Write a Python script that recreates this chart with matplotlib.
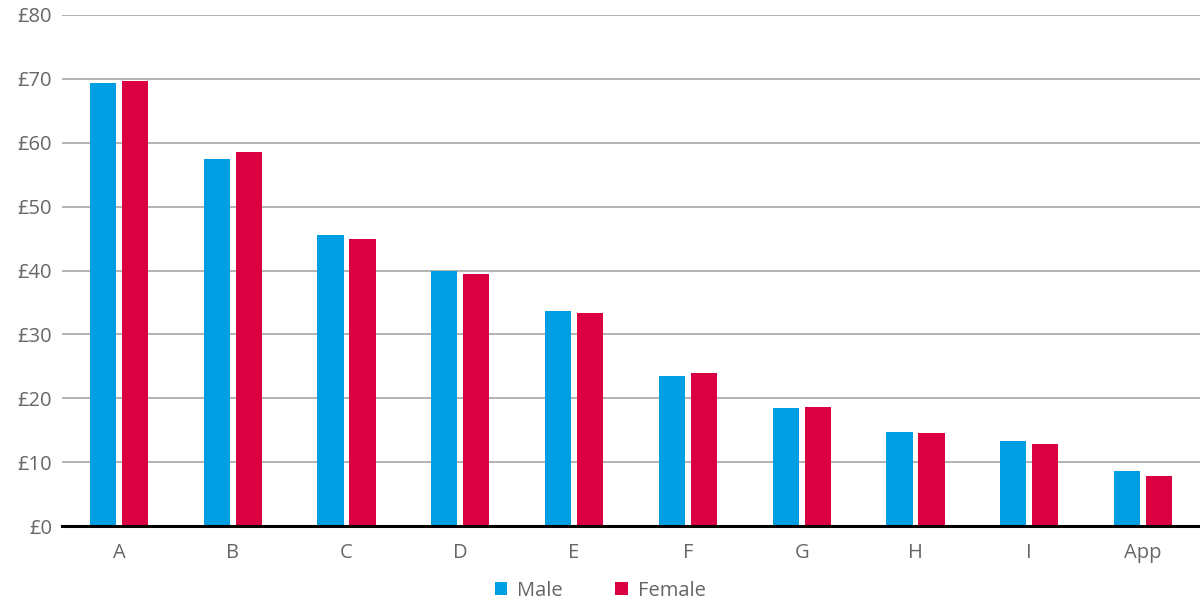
import numpy as np
import matplotlib
matplotlib.use('Agg')
import matplotlib.pyplot as plt
from matplotlib.ticker import FuncFormatter

# Average spend per group, split by gender (GBP)
categories = ['A', 'B', 'C', 'D', 'E', 'F', 'G', 'H', 'I', 'App']
male = [69.3, 57.5, 45.6, 39.9, 33.6, 23.5, 18.5, 14.7, 13.3, 8.6]
female = [69.6, 58.6, 44.9, 39.4, 33.3, 23.9, 18.7, 14.6, 12.9, 7.9]

blue = '#009FE3'
red = '#DA0042'
grey_text = '#666666'

plt.rcParams['font.family'] = ['Open Sans', 'DejaVu Sans']

fig = plt.figure(figsize=(12, 6.05), dpi=100)
ax = fig.add_axes([62 / 1200, 1 - 526 / 605, 1 - 62 / 1200, 511 / 605])

x = np.arange(len(categories))
w = 0.23
ax.bar(x - 0.14, male, width=w, color=blue, label='Male', zorder=3)
ax.bar(x + 0.14, female, width=w, color=red, label='Female', zorder=3)

ax.set_xlim(-0.5, len(categories) - 0.5)
ax.set_ylim(0, 80)
ax.set_yticks(range(0, 81, 10))
ax.yaxis.set_major_formatter(FuncFormatter(lambda v, p: '£%d' % v))
ax.set_xticks(x)
ax.set_xticklabels(categories)

ax.grid(axis='y', color='#a6a6a6', linewidth=1.2, zorder=0)
for s in ['left', 'right', 'top']:
    ax.spines[s].set_visible(False)
ax.spines['bottom'].set_color('black')
ax.spines['bottom'].set_linewidth(2.2)
ax.spines['bottom'].set_zorder(4)

ax.tick_params(axis='both', length=0, labelsize=14.5, labelcolor=grey_text)
ax.tick_params(axis='x', pad=12)
ax.tick_params(axis='y', pad=7)

leg = fig.legend(loc='lower center', bbox_to_anchor=(0.5, -0.023), ncol=2,
                 frameon=False, fontsize=14.5, handlelength=0.62, handleheight=0.62,
                 columnspacing=2.6, handletextpad=0.5)
for t in leg.get_texts():
    t.set_color(grey_text)

fig.savefig('out.png', dpi=100)
